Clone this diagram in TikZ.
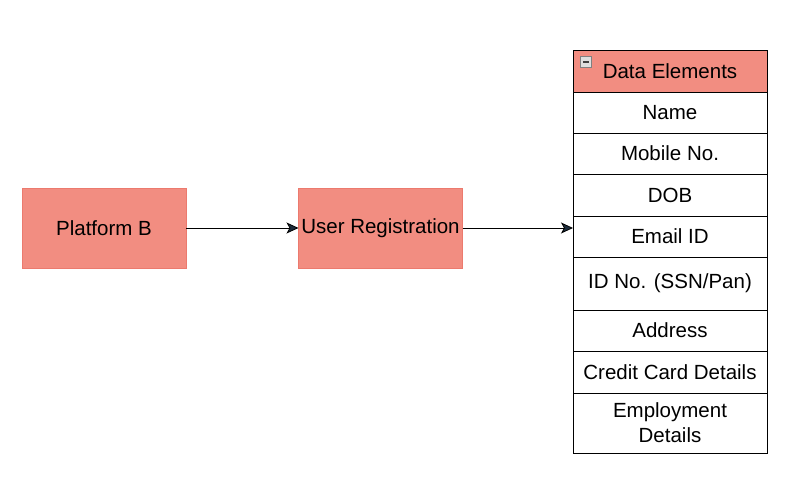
\documentclass[tikz,border=0pt]{standalone}
\usepackage{fontspec}
\setmainfont{Liberation Sans}
\usetikzlibrary{positioning,arrows.meta}
\definecolor{salmon}{HTML}{F28D81}
\definecolor{salmonline}{HTML}{EC7A6E}
\definecolor{tipnavy}{HTML}{1B2B3B}
\begin{document}
\begin{tikzpicture}[x=1pt,y=-1pt,line width=.8pt,
 font=\fontsize{20.5}{25}\selectfont,
 every node/.style={outer sep=0pt,inner sep=2pt},
 salmonbox/.style={draw=salmonline,fill=salmon,minimum width=164pt,minimum height=80pt},
 field/.style={draw=black,fill=white,minimum width=194pt,align=center},
 flow/.style={-{Stealth[length=12pt,width=11pt,inset=3pt,fill=tipnavy]}}]
\useasboundingbox (0,0) rectangle (800,486);
% source and registration step
\node[salmonbox] (platB) at (104,228) {Platform B};
\node[salmonbox] (userReg) at (380.5,228) {User Registration};
% data elements table, rows stacked downwards
\node[field,fill=salmon,minimum height=42pt,anchor=north] (hdr) at (670,50) {Data Elements};
\node[field,minimum height=41pt,below=0pt of hdr] (name) {Name};
\node[field,minimum height=41pt,below=0pt of name] (mobile) {Mobile No.};
\node[field,minimum height=42pt,below=0pt of mobile] (dob) {DOB};
\node[field,minimum height=41pt,below=0pt of dob] (email) {Email ID};
\node[field,minimum height=53pt,below=0pt of email] (idNo) {ID No. (SSN/Pan)};
\node[field,minimum height=41pt,below=0pt of idNo] (address) {Address};
\node[field,minimum height=42pt,below=0pt of address] (card) {Credit Card Details};
\node[field,minimum height=60pt,below=0pt of card] (employ) {Employment\\Details};
% collapse toggle in the header
\node[draw=gray,fill=gray!25,line width=.7pt,minimum size=11pt,inner sep=0pt] (toggle) at (586,62) {};
\draw[line width=1.4pt,darkgray] ([xshift=2.5pt]toggle.west) -- ([xshift=-2.5pt]toggle.east);
% connectors
\draw[flow] (platB.east) -- (userReg.west);
\draw[flow] (userReg.east) -- (userReg.east -| email.west);
\end{tikzpicture}
\end{document}
